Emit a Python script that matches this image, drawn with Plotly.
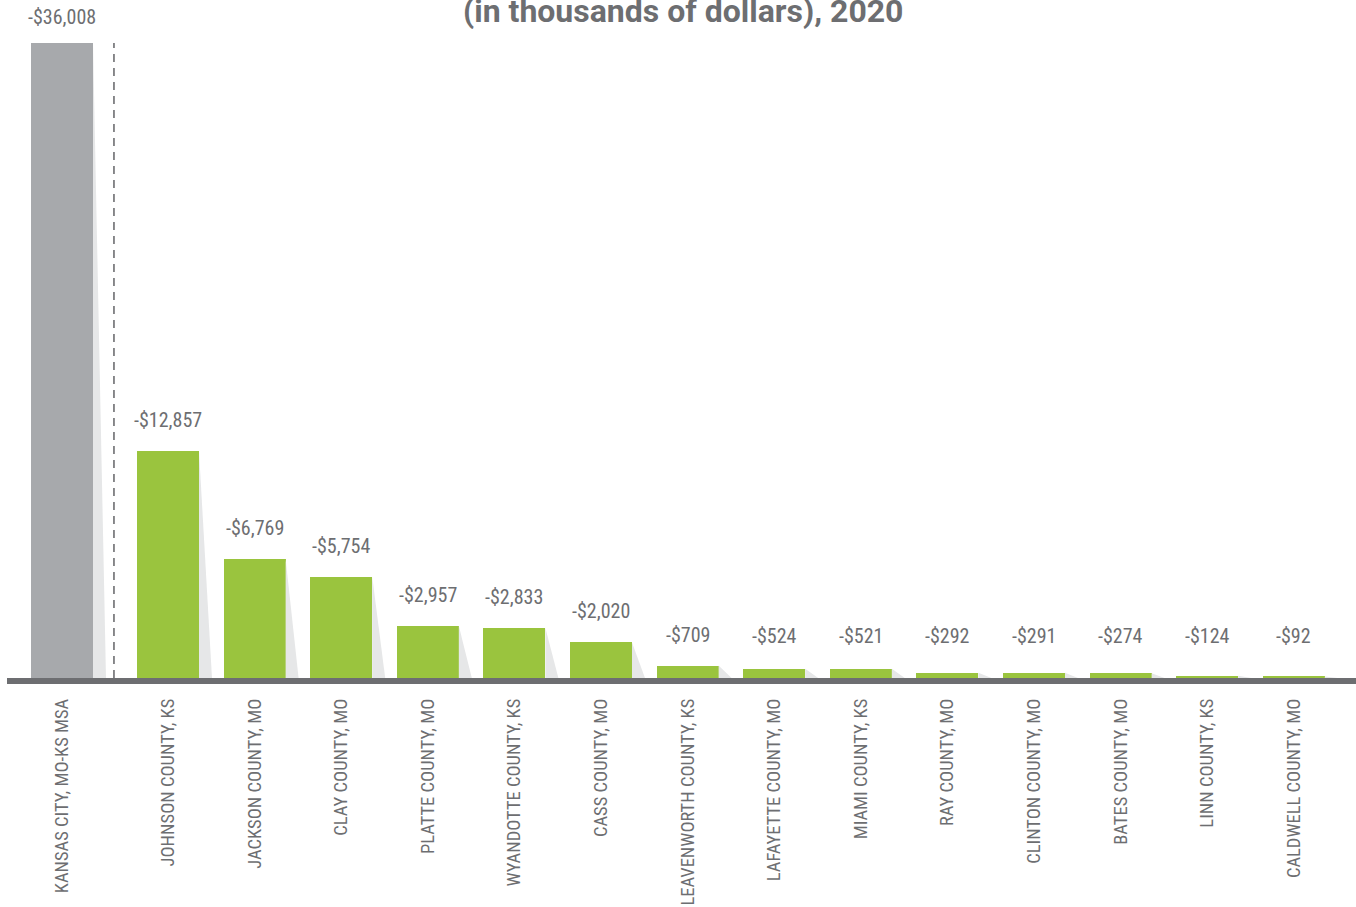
import plotly.graph_objects as go

categories = ["KANSAS CITY, MO-KS MSA", "JOHNSON COUNTY, KS", "JACKSON COUNTY, MO", "CLAY COUNTY, MO",
              "PLATTE COUNTY, MO", "WYANDOTTE COUNTY, KS", "CASS COUNTY, MO", "LEAVENWORTH COUNTY, KS",
              "LAFAYETTE COUNTY, MO", "MIAMI COUNTY, KS", "RAY COUNTY, MO", "CLINTON COUNTY, MO",
              "BATES COUNTY, MO", "LINN COUNTY, KS", "CALDWELL COUNTY, MO"]
values = [-36008, -12857, -6769, -5754, -2957, -2833, -2020, -709, -524, -521, -292, -291, -274, -124, -92]
title_text = "(in thousands of dollars), 2020"

GRAY_TXT = "#6d6e71"
GREEN = "#9ac43e"
MSA_GRAY = "#a7a9ac"
SHADOW = "#e6e7e8"
FONT = "Roboto Condensed, Liberation Sans Narrow, DejaVu Sans Condensed, Roboto, sans-serif"

W, H = 1356, 907
PX_PER_UNIT = 86.6
first_center = 62
x_pos = [0.0] + [1.224 + i for i in range(len(categories) - 1)]
heights = [abs(v) for v in values]
bw = 0.716
shadow_d = 0.15

py_per_unit = 635 / 36008
base_px = 678
plot_h = 694
ymin = -(plot_h - base_px) / py_per_unit
ymax = base_px / py_per_unit

fig = go.Figure()

# shadows
for xp, h in zip(x_pos, heights):
    x1 = xp + bw / 2
    fig.add_trace(go.Scatter(x=[x1, x1, x1 + shadow_d, x1], y=[h, 0, 0, h], fill="toself",
                             fillcolor=SHADOW, line=dict(width=0), mode="lines",
                             hoverinfo="skip", showlegend=False))

colors = [MSA_GRAY] + [GREEN] * (len(categories) - 1)
fig.add_trace(go.Bar(x=x_pos, y=heights, width=bw, marker=dict(color=colors, line=dict(width=0)),
                     showlegend=False, hoverinfo="skip"))

# value labels
for i, (xp, h, v) in enumerate(zip(x_pos, heights, values)):
    fig.add_annotation(x=xp, y=max(h, 620), yshift=(26 if i == 0 else 31), text=f"-${abs(v):,}",
                       showarrow=False, font=dict(family=FONT, size=20, color=GRAY_TXT), yanchor="middle")

# dashed separator
sep_x = (x_pos[0] + x_pos[1]) / 2 - 0.012
fig.add_shape(type="line", x0=sep_x, x1=sep_x, y0=0, y1=heights[0], xref="x", yref="y",
              line=dict(color=GRAY_TXT, width=1.6, dash="8px,6px"))

# baseline
x_left = -first_center / PX_PER_UNIT
x_right = (W - first_center) / PX_PER_UNIT
line_y = -3 / py_per_unit
fig.add_shape(type="line", x0=(7 - first_center) / PX_PER_UNIT, x1=x_right, y0=line_y, y1=line_y,
              xref="x", yref="y", line=dict(color=GRAY_TXT, width=6))

fig.add_annotation(x=683 / W, xref="paper", y=1 - 11 / plot_h, yref="paper",
                   text=f"<b>{title_text}</b>", showarrow=False,
                   font=dict(family="Roboto", size=32, color=GRAY_TXT), yanchor="middle")

fig.update_layout(
    width=W, height=H, margin=dict(l=0, r=0, t=0, b=H - plot_h),
    paper_bgcolor="white", plot_bgcolor="white", bargap=0,
    xaxis=dict(range=[x_left, x_right], tickmode="array", tickvals=x_pos, ticktext=categories,
               tickangle=-90, showgrid=False, zeroline=False, showline=False, ticks="",
               tickfont=dict(family=FONT, size=18.5, color=GRAY_TXT), fixedrange=True),
    yaxis=dict(range=[ymin, ymax], visible=False, fixedrange=True),
)

fig.write_html("out.html", config={"displayModeBar": False},
               post_script="document.body.style.margin='0';")
